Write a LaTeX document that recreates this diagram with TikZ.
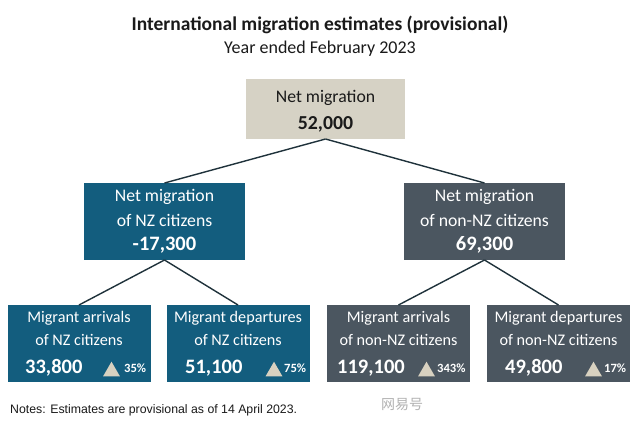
\documentclass[tikz,border=0pt]{standalone}
\usepackage{fontspec}
\setmainfont{Carlito}
\newfontfamily\notesfont{Liberation Sans}
\newfontfamily\cjkfont{Noto Sans CJK SC}
\usetikzlibrary{shapes.geometric}
\definecolor{nzteal}{HTML}{135D7E}
\definecolor{nzgrey}{HTML}{4B5660}
\definecolor{nzbeige}{HTML}{D6D2C5}
\definecolor{tribeige}{HTML}{D8D1C0}
\definecolor{linecol}{HTML}{1F323B}
\definecolor{titlecol}{HTML}{1A1A1A}
\begin{document}
\begin{tikzpicture}[x=1pt,y=-1pt,
  boxbase/.style={inner sep=0pt, outer sep=0pt},
  midbox/.style={boxbase, minimum width=161pt, minimum height=77pt},
  lowbox/.style={boxbase, minimum width=143pt, minimum height=77pt},
  topbox/.style={boxbase, fill=nzbeige, minimum width=159pt, minimum height=60pt},
  wtxt/.style={text=white, font=\fontsize{17.7}{20}\selectfont, inner sep=0pt},
  btxt/.style={text=white, font=\fontsize{16.2}{19}\selectfont, inner sep=0pt},
  midnum/.style={text=white, font=\bfseries\fontsize{20.5}{23}\selectfont, inner sep=0pt},
  bignum/.style={text=white, font=\bfseries\fontsize{20.5}{23}\selectfont, inner sep=0pt, anchor=west},
  pct/.style={text=white, font=\bfseries\fontsize{12.6}{14}\selectfont, inner sep=0pt, anchor=west},
  tri/.style={regular polygon, regular polygon sides=3, fill=tribeige, minimum size=19.6pt, inner sep=0pt},
  link/.style={draw=linecol, line width=1.4pt}
]
\fill[white] (0,0) rectangle (640,423);
\useasboundingbox (0,0) rectangle (640,423);

% titles
\node[text=titlecol, font=\bfseries\fontsize{19.5}{22}\selectfont, inner sep=0pt] (title) at (320,25) {International migration estimates (provisional)};
\node[text=titlecol, font=\fontsize{18}{21}\selectfont, inner sep=0pt] (subtitle) at (320,49) {Year ended February 2023};

% boxes
\node[topbox] (top) at (325.5,109) {};
\node[midbox, fill=nzteal] (nz) at (164.5,221.5) {};
\node[midbox, fill=nzgrey] (nonnz) at (484.5,221.5) {};
\node[lowbox, fill=nzteal] (b1) at (79,343.5) {};
\node[lowbox, fill=nzteal] (b2) at (238,343.5) {};
\node[lowbox, fill=nzgrey] (b3) at (398.5,343.5) {};
\node[lowbox, fill=nzgrey] (b4) at (558.5,343.5) {};

% connectors
\draw[link] (top.south) -- (nz.north);
\draw[link] (top.south) -- (nonnz.north);
\draw[link] (nz.south) -- (b1.north);
\draw[link] (nz.south) -- (b2.north);
\draw[link] (nonnz.south) -- (b3.north);
\draw[link] (nonnz.south) -- (b4.north);

% top box text
\node[text=titlecol, font=\fontsize{17.7}{20}\selectfont, inner sep=0pt] (t1) at (325.5,98) {Net migration};
\node[text=titlecol, font=\bfseries\fontsize{19.8}{22}\selectfont, inner sep=0pt] (t2) at (325.5,124) {52,000};

% mid box text
\node[wtxt] (n1) at (164.5,197) {Net migration};
\node[wtxt] (n2) at (164.5,220) {of NZ citizens};
\node[midnum] (n3) at (164.5,245) {-17,300};
\node[wtxt] (m1) at (484.5,197) {Net migration};
\node[wtxt] (m2) at (484.5,220) {of non-NZ citizens};
\node[midnum] (m3) at (484.5,245) {69,300};

% bottom box text
\node[btxt] (a1) at (79,318) {Migrant arrivals};
\node[btxt] (a2) at (79,340) {of NZ citizens};
\node[bignum] (a3) at (25,368) {33,800};
\node[tri] (a4) at (111.5,371.5) {};
\node[pct] (a5) at (124,368) {35\%};

\node[btxt] (c1) at (238,318) {Migrant departures};
\node[btxt] (c2) at (238,340) {of NZ citizens};
\node[bignum] (c3) at (185,368) {51,100};
\node[tri] (c4) at (274,371.5) {};
\node[pct] (c5) at (284,368) {75\%};

\node[btxt] (d1) at (398.5,318) {Migrant arrivals};
\node[btxt] (d2) at (398.5,340) {of non-NZ citizens};
\node[bignum] (d3) at (337,368) {119,100};
\node[tri] (d4) at (426.5,371.5) {};
\node[pct] (d5) at (437,368) {343\%};

\node[btxt] (e1) at (558.5,318) {Migrant departures};
\node[btxt] (e2) at (558.5,340) {of non-NZ citizens};
\node[bignum] (e3) at (505,368) {49,800};
\node[tri] (e4) at (593.5,371.5) {};
\node[pct] (e5) at (604,368) {17\%};

% notes
\node[anchor=west, inner sep=0pt, text=titlecol, font=\notesfont\fontsize{12.3}{14}\selectfont] (notes) at (10,410) {Notes: Estimates are provisional as of 14 April 2023.};
\node[inner sep=0pt, text=black!30, font=\cjkfont\fontsize{14}{16}\selectfont] (wm) at (402,404) {网易号};
\end{tikzpicture}
\end{document}
